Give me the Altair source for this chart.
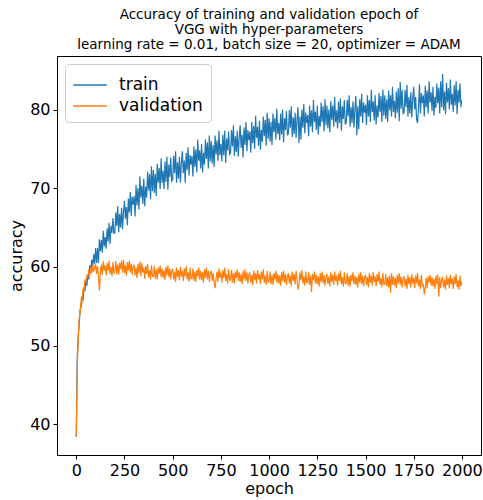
import altair as alt
import pandas as pd

early_epochs = list(range(0, 100, 5))
late_epochs = list(range(100, 2000, 5)) + [1999]
epochs = early_epochs + late_epochs

train = [
    # 0-95
    38.4, 48.5, 51.2, 52.8, 54.6, 54.9, 56.3, 55.7, 57.4, 56.9,
    58.3, 57.6, 59.1, 58.4, 60.2, 59.3, 60.9, 60.0, 61.6, 60.4,
    # 100-195
    62.4, 60.5, 62.4, 60.5, 63.5, 62.0, 63.4, 61.8, 64.6, 62.6,
    63.8, 62.3, 64.9, 63.2, 65.6, 62.9, 65.2, 64.3, 66.2, 64.3,
    # 200-295
    64.3, 66.9, 65.2, 67.7, 64.4, 66.7, 65.0, 67.5, 64.8, 67.0,
    68.4, 66.1, 67.6, 65.3, 68.7, 66.9, 69.5, 66.5, 68.9, 67.9,
    # 300-395
    69.0, 66.4, 70.4, 67.8, 70.0, 67.3, 71.5, 68.8, 70.3, 68.0,
    71.2, 67.7, 70.2, 68.8, 72.1, 69.7, 71.8, 68.6, 72.8, 69.6,
    # 400-495
    72.3, 69.4, 71.8, 69.0, 73.1, 70.7, 72.6, 69.9, 73.8, 70.7,
    72.2, 69.9, 73.4, 70.8, 74.0, 69.8, 73.0, 71.4, 73.9, 70.9,
    # 500-595
    71.1, 74.1, 71.9, 74.7, 70.7, 73.3, 71.2, 74.0, 70.7, 73.2,
    74.7, 71.9, 73.5, 70.7, 74.5, 72.3, 75.2, 71.6, 74.2, 73.0,
    # 600-695
    74.1, 71.5, 75.3, 72.7, 74.9, 72.0, 76.2, 73.5, 74.8, 72.5,
    75.6, 72.0, 74.5, 73.0, 76.2, 73.7, 75.8, 72.5, 76.7, 73.4,
    # 700-795
    76.0, 73.1, 75.5, 72.7, 76.7, 74.3, 76.1, 73.5, 77.3, 74.2,
    75.6, 73.4, 76.8, 74.2, 77.3, 73.2, 76.3, 74.8, 77.2, 74.3,
    # 800-895
    74.5, 77.4, 75.3, 78.0, 74.1, 76.6, 74.6, 77.3, 74.0, 76.5,
    78.0, 75.1, 76.8, 73.9, 77.7, 75.5, 78.4, 74.7, 77.4, 76.1,
    # 900-995
    77.2, 74.5, 78.4, 75.7, 77.9, 75.0, 79.2, 76.4, 77.8, 75.4,
    78.6, 74.9, 77.4, 75.9, 79.1, 76.6, 78.7, 75.4, 79.6, 76.3,
    # 1000-1095
    78.9, 75.9, 78.4, 75.5, 79.5, 77.1, 78.9, 76.2, 80.1, 76.9,
    78.3, 76.1, 79.5, 76.8, 80.0, 75.8, 78.9, 77.4, 79.8, 76.8,
    # 1100-1195
    76.9, 79.9, 77.7, 80.4, 76.5, 79.0, 76.9, 79.6, 76.4, 78.8,
    80.3, 75.7, 79.1, 76.2, 80.0, 77.7, 80.7, 77.0, 79.6, 78.3,
    # 1200-1295
    79.3, 76.6, 80.5, 77.8, 79.9, 77.1, 81.2, 78.4, 79.7, 77.4,
    80.5, 76.8, 79.2, 77.8, 80.9, 78.4, 80.4, 77.2, 81.3, 78.0,
    # 1300-1395
    80.5, 77.6, 80.0, 77.1, 81.1, 78.7, 80.5, 77.8, 81.6, 78.4,
    79.9, 77.6, 81.0, 78.3, 81.4, 77.3, 80.4, 78.8, 81.2, 78.2,
    # 1400-1495
    78.3, 81.2, 79.1, 81.8, 77.8, 80.3, 78.3, 81.0, 77.7, 80.1,
    81.7, 76.7, 80.4, 77.5, 81.3, 79.1, 82.0, 78.3, 80.9, 79.6,
    # 1500-1595
    80.6, 78.0, 81.8, 79.1, 81.2, 78.4, 82.5, 79.7, 81.0, 78.6,
    81.8, 78.1, 80.5, 79.0, 82.1, 79.7, 81.7, 78.4, 82.5, 79.2,
    # 1600-1695
    81.8, 78.8, 81.3, 78.4, 82.4, 79.9, 81.8, 79.1, 82.9, 79.7,
    81.1, 78.9, 82.3, 79.6, 82.7, 78.5, 83.5, 80.1, 82.5, 79.5,
    # 1700-1795
    79.6, 82.5, 80.3, 83.1, 79.1, 81.6, 79.5, 82.2, 79.0, 81.4,
    82.9, 80.0, 81.6, 78.7, 78.3, 80.3, 83.2, 79.5, 82.1, 80.8,
    # 1800-1895
    81.8, 79.1, 83.0, 80.3, 82.4, 79.5, 83.6, 80.9, 82.2, 79.8,
    82.9, 79.2, 81.6, 80.2, 83.3, 80.8, 82.8, 79.5, 83.6, 80.3,
    # 1900-1995
    84.5, 79.9, 82.3, 79.4, 83.4, 80.9, 82.7, 80.0, 83.8, 80.6,
    82.0, 79.7, 83.1, 80.5, 83.6, 79.4, 82.5, 80.9, 83.3, 80.3,
    # 1999
    81.2,
]

validation = [
    # 0-95
    38.4, 47.2, 50.6, 53.4, 54.1, 55.8, 55.6, 57.2, 56.9, 58.4,
    58.1, 59.0, 58.6, 59.7, 58.9, 59.9, 59.2, 60.3, 59.4, 59.8,
    # 100-195
    60.4, 59.1, 60.1, 58.8, 57.0, 59.4, 60.3, 59.0, 60.7, 59.5,
    60.2, 58.9, 60.5, 59.5, 60.8, 59.1, 60.0, 58.8, 60.6, 59.2,
    # 200-295
    59.4, 60.7, 59.1, 60.3, 59.0, 60.5, 59.7, 60.8, 59.3, 60.9,
    59.2, 60.2, 58.9, 60.6, 59.5, 60.8, 59.3, 60.4, 59.0, 60.1,
    # 300-395
    60.2, 58.9, 59.9, 58.6, 60.4, 59.2, 60.7, 58.8, 60.5, 59.3,
    59.9, 58.5, 60.1, 59.1, 60.4, 58.7, 59.6, 58.4, 60.2, 58.8,
    # 400-495
    58.8, 60.1, 58.5, 59.7, 58.4, 59.9, 59.1, 60.2, 58.7, 59.8,
    58.6, 59.6, 58.3, 60.0, 58.9, 60.2, 58.7, 59.8, 58.4, 59.5,
    # 500-595
    59.7, 58.4, 59.4, 58.1, 59.9, 58.7, 59.6, 58.3, 60.0, 58.8,
    59.5, 58.2, 59.8, 58.8, 60.1, 58.4, 59.3, 58.1, 59.9, 58.5,
    # 600-695
    58.5, 59.8, 58.2, 59.4, 58.1, 59.6, 58.8, 59.9, 58.4, 59.5,
    58.3, 59.3, 58.0, 59.7, 58.6, 59.9, 58.4, 59.5, 58.1, 59.2,
    # 700-795
    59.5, 58.2, 59.2, 57.9, 57.3, 58.5, 59.4, 58.1, 59.8, 58.6,
    59.3, 58.0, 59.6, 58.6, 59.9, 58.2, 59.1, 57.9, 59.7, 58.3,
    # 800-895
    58.3, 59.6, 58.0, 59.2, 57.9, 59.4, 58.6, 59.7, 58.2, 59.3,
    58.1, 59.1, 57.8, 59.5, 58.4, 59.7, 58.2, 59.3, 57.9, 59.0,
    # 900-995
    59.3, 58.0, 59.0, 57.7, 59.5, 58.3, 59.2, 57.9, 59.6, 58.4,
    59.1, 57.8, 59.4, 58.4, 59.7, 58.0, 58.9, 57.7, 59.5, 58.1,
    # 1000-1095
    58.1, 59.4, 57.8, 59.0, 57.7, 59.2, 58.4, 59.5, 58.0, 59.1,
    57.9, 58.9, 57.6, 59.3, 58.2, 59.5, 58.0, 59.1, 57.7, 58.8,
    # 1100-1195
    59.2, 57.9, 58.9, 57.6, 59.4, 58.2, 59.1, 57.8, 59.5, 58.3,
    57.1, 57.7, 59.3, 58.3, 59.6, 57.9, 58.8, 57.6, 59.4, 58.0,
    # 1200-1295
    58.0, 59.3, 57.7, 58.9, 56.8, 59.1, 58.3, 59.4, 57.9, 59.0,
    57.8, 58.8, 57.5, 59.2, 58.1, 59.4, 57.9, 59.0, 57.6, 58.7,
    # 1300-1395
    59.1, 57.8, 58.8, 57.5, 59.3, 58.1, 59.0, 57.7, 59.4, 58.2,
    58.9, 57.6, 59.2, 58.2, 59.5, 57.8, 58.7, 57.5, 59.3, 57.9,
    # 1400-1495
    57.9, 59.2, 57.6, 58.8, 57.5, 59.0, 58.2, 59.3, 57.8, 58.9,
    57.7, 58.7, 57.4, 59.1, 58.0, 59.3, 57.8, 58.9, 57.5, 58.6,
    # 1500-1595
    59.0, 57.7, 58.7, 57.4, 59.2, 58.0, 58.9, 57.6, 59.3, 58.1,
    58.8, 57.5, 59.1, 58.1, 59.4, 57.7, 58.6, 57.4, 59.2, 57.8,
    # 1600-1695
    57.8, 59.1, 57.5, 58.7, 57.4, 58.9, 56.7, 59.2, 57.7, 58.8,
    57.6, 58.6, 57.3, 59.0, 57.9, 59.2, 57.7, 58.8, 57.4, 58.5,
    # 1700-1795
    58.8, 57.5, 58.5, 57.2, 59.0, 57.8, 58.7, 57.4, 59.1, 57.9,
    58.6, 57.3, 58.9, 57.9, 59.2, 57.5, 58.4, 57.2, 59.0, 57.6,
    # 1800-1895
    57.7, 56.5, 57.4, 58.6, 57.3, 58.8, 58.0, 59.0, 57.6, 58.7,
    57.5, 58.5, 57.2, 58.9, 57.8, 59.0, 56.2, 58.7, 57.3, 58.4,
    # 1900-1995
    58.7, 57.4, 58.4, 57.1, 58.9, 57.7, 58.6, 57.3, 59.0, 57.8,
    58.5, 57.2, 58.8, 57.8, 59.1, 57.4, 58.3, 57.1, 58.9, 57.5,
    # 1999
    58.1,
]

series_names = ["train", "validation"]
series_colors = ["#1f77b4", "#ff7f0e"]
x_ticks = [0, 250, 500, 750, 1000, 1250, 1500, 1750, 2000]
y_ticks = [40, 50, 60, 70, 80]
title_lines = [
    "Accuracy of training and validation epoch of",
    "VGG with hyper-parameters",
    "learning rate = 0.01, batch size = 20, optimizer = ADAM",
]

df = pd.concat([
    pd.DataFrame({"epoch": epochs, "accuracy": train, "series": "train"}),
    pd.DataFrame({"epoch": epochs, "accuracy": validation, "series": "validation"}),
])

FONT = "DejaVu Sans"

chart = alt.Chart(df).mark_line(strokeWidth=1.2).encode(
    x=alt.X("epoch:Q",
            scale=alt.Scale(domain=[-100, 2099], nice=False, zero=False),
            axis=alt.Axis(values=x_ticks, format="d", title="epoch", grid=False,
                          labelFontSize=16, titleFontSize=16, tickSize=4,
                          labelPadding=3, titlePadding=2)),
    y=alt.Y("accuracy:Q",
            scale=alt.Scale(domain=[36.09, 86.8], nice=False, zero=False),
            axis=alt.Axis(values=y_ticks, title="accuracy", grid=False,
                          labelFontSize=16, titleFontSize=16, tickSize=4,
                          labelPadding=3, titlePadding=5)),
    color=alt.Color("series:N",
                    scale=alt.Scale(domain=series_names, range=series_colors),
                    legend=alt.Legend(title=None, orient="top-left", offset=8,
                                      symbolType="M-1.4,0H1.4", symbolSize=576,
                                      symbolOffset=4,
                                      symbolStrokeWidth=1.5, labelFontSize=17,
                                      labelOffset=16, rowPadding=0,
                                      padding=8, cornerRadius=4,
                                      strokeColor="#cccccc", fillColor="white")),
).properties(
    width=424,
    height=399,
    title=alt.TitleParams(text=title_lines, fontSize=13.5, fontWeight="normal",
                          font=FONT, anchor="middle", offset=5, lineHeight=15,
                          color="black"),
    autosize=alt.AutoSizeParams(type="none"),
    padding={"left": 57, "top": 56, "right": 2, "bottom": 45},
).configure(
    font=FONT,
).configure_view(
    stroke="black", strokeWidth=1,
).configure_axis(
    labelFont=FONT, titleFont=FONT, labelColor="black", titleColor="black",
    domainColor="black", tickColor="black", titleFontWeight="normal",
).configure_legend(
    labelFont=FONT, labelColor="black",
)

chart.save("out.html", embed_options={"renderer": "svg", "actions": False})
